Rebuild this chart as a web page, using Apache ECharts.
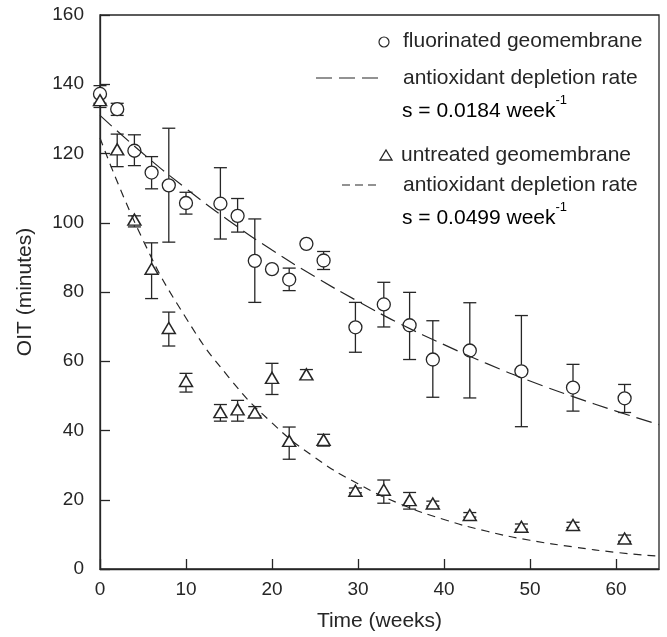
<!DOCTYPE html>
<html><head><meta charset="utf-8">
<script src="https://cdn.jsdelivr.net/npm/echarts@6/dist/echarts.min.js"></script>
<style>html,body{margin:0;padding:0;background:#fff}#c{width:667px;height:637px}</style>
</head><body><div id="c"></div>
<script>
// ---- data ----
const fluorTime = [0, 2, 4, 6, 8, 10, 14, 16, 18, 20, 22, 24, 26, 29.7, 33, 36, 38.7, 43, 49, 55, 61];
const fluorOIT  = [137.2, 132.8, 120.8, 114.5, 110.8, 105.7, 105.5, 102.0, 89.0, 86.6, 83.6, 93.9, 89.1, 69.8, 76.4, 70.4, 60.5, 63.1, 57.1, 52.4, 49.3];
const fluorLow  = [134.5, 131.0, 116.5, 109.8, 94.4, 102.5, 95.3, 97.3, 77.0, null, 80.4, null, 86.5, 62.6, 69.9, 60.5, 49.6, 49.4, 41.1, 45.6, 45.2];
const fluorHigh = [139.6, 134.5, 125.4, 119.1, 127.3, 108.8, 115.9, 107.0, 101.1, null, 86.9, null, 91.7, 77.0, 82.8, 79.9, 71.7, 76.9, 73.2, 59.1, 53.3];

const untrTime = [0, 2, 4, 6, 8, 10, 14, 16, 18, 20, 22, 24, 26, 29.7, 33, 36, 38.7, 43, 49, 55, 61];
const untrOIT  = [135.4, 121.2, 100.9, 86.7, 69.6, 54.3, 45.3, 46.1, 45.2, 55.2, 37.0, 56.2, 37.3, 22.6, 22.9, 19.9, 18.9, 15.6, 12.2, 12.7, 8.8];
const untrLow  = [133.3, 116.2, 98.8, 78.1, 64.4, 51.1, 42.7, 42.7, 44.2, 50.4, 31.7, 54.8, 35.5, 22.0, 19.0, 17.3, 18.2, 15.0, 11.5, 12.0, 8.0];
const untrHigh = [137.0, 125.6, 102.0, 94.2, 74.2, 56.5, 47.5, 48.7, 46.9, 59.4, 41.0, 57.6, 38.9, 23.4, 25.7, 22.1, 19.6, 16.3, 13.0, 13.5, 9.8];

// depletion-rate curves
const fitTime  = [0, 5, 10, 15, 20, 25, 30, 35, 40, 45, 50, 55, 60, 65];
const fluorFit = [131.0, 120.0, 109.9, 100.6, 92.1, 84.4, 77.3, 70.7, 64.8, 59.3, 54.3, 49.8, 45.6, 41.7];
const untrFit  = [124.5, 95.0, 72.5, 55.3, 42.2, 32.2, 24.6, 18.7, 14.3, 10.9, 8.3, 6.4, 4.8, 3.7];

const xTicks = [0, 10, 20, 30, 40, 50, 60];
const yTicks = [0, 20, 40, 60, 80, 100, 120, 140, 160];

const legendTexts = {
  f1: 'fluorinated geomembrane',
  f2: 'antioxidant depletion rate',
  f3: 's = 0.0184 week',
  u1: 'untreated geomembrane',
  u2: 'antioxidant depletion rate',
  u3: 's = 0.0499 week',
  sup: '-1'
};

// ---- chart ----
const INK = '#262626';
const FONT = '"Liberation Sans", Arial, Helvetica, sans-serif';
const LFS = 21;

function pairs(xs, ys) { return xs.map((x, i) => [x, ys[i]]); }
function errData(xs, lo, hi) {
  const out = [];
  xs.forEach((x, i) => { if (lo[i] != null && hi[i] != null) out.push([x, lo[i], hi[i]]); });
  return out;
}
function errRender(params, api) {
  const x = api.value(0), lo = api.value(1), hi = api.value(2);
  const a = api.coord([x, lo]), b = api.coord([x, hi]);
  const hw = 6.5;
  const st = { stroke: INK, lineWidth: 1.3, fill: null };
  return {
    type: 'group',
    children: [
      { type: 'line', shape: { x1: a[0], y1: a[1], x2: b[0], y2: b[1] }, style: st },
      { type: 'line', shape: { x1: a[0] - hw, y1: a[1], x2: a[0] + hw, y2: a[1] }, style: st },
      { type: 'line', shape: { x1: b[0] - hw, y1: b[1], x2: b[0] + hw, y2: b[1] }, style: st }
    ]
  };
}

const chart = echarts.init(document.getElementById('c'), null, { renderer: 'canvas' });

const axisCommon = {
  type: 'value',
  axisLine: { show: true, lineStyle: { color: INK, width: 1.3 } },
  axisTick: { show: true, inside: true, length: 10, lineStyle: { color: INK, width: 1.3 } },
  splitLine: { show: false },
  nameLocation: 'middle',
  nameTextStyle: { color: INK, fontSize: 21, fontFamily: FONT }
};

const rich = {
  m: { fontSize: LFS, fontFamily: FONT, color: INK, lineHeight: 28, verticalAlign: 'bottom' },
  s: { fontSize: 13, fontFamily: FONT, color: INK, lineHeight: 14, verticalAlign: 'top' }
};

function txt(x, y, t) {
  return { type: 'text', x: x, y: y, style: { text: t, fill: INK, fontSize: LFS, fontFamily: FONT, verticalAlign: 'middle' } };
}

chart.setOption({
  animation: false,
  backgroundColor: '#fff',
  grid: { left: 100, right: 8, top: 15, bottom: 67, show: true, borderColor: INK, borderWidth: 1.3, backgroundColor: 'transparent' },
  xAxis: Object.assign({}, axisCommon, {
    min: 0, max: 65, interval: 10,
    name: 'Time (weeks)', nameGap: 42,
    axisLabel: { color: INK, fontSize: 19, fontFamily: FONT, margin: 11, showMaxLabel: false,
      formatter: v => (xTicks.indexOf(v) >= 0 ? String(v) : '') }
  }),
  yAxis: Object.assign({}, axisCommon, {
    min: 0, max: 160, interval: 20,
    name: 'OIT (minutes)', nameGap: 64,
    axisLabel: { color: INK, fontSize: 19, fontFamily: FONT, margin: 16,
      formatter: v => (yTicks.indexOf(v) >= 0 ? String(v) : '') }
  }),
  series: [
    { type: 'custom', name: 'fluorErr', renderItem: errRender, data: errData(fluorTime, fluorLow, fluorHigh), silent: true, z: 2 },
    { type: 'custom', name: 'untrErr', renderItem: errRender, data: errData(untrTime, untrLow, untrHigh), silent: true, z: 2 },
    { type: 'scatter', name: 'fluorinated geomembrane', data: pairs(fluorTime, fluorOIT), symbol: 'circle', symbolSize: 13,
      itemStyle: { color: '#fff', borderColor: INK, borderWidth: 1.3, opacity: 1 }, silent: true, z: 3 },
    { type: 'scatter', name: 'untreated geomembrane', data: pairs(untrTime, untrOIT), symbol: 'triangle', symbolSize: [13, 11],
      itemStyle: { color: '#fff', borderColor: INK, borderWidth: 1.5, opacity: 1 }, silent: true, z: 3 },
    { type: 'line', name: 'fluorFit', data: pairs(fitTime, fluorFit), smooth: true, showSymbol: false, symbol: 'none',
      lineStyle: { color: INK, width: 1.2, type: [16, 7] }, silent: true, z: 4 },
    { type: 'line', name: 'untrFit', data: pairs(fitTime, untrFit), smooth: true, showSymbol: false, symbol: 'none',
      lineStyle: { color: INK, width: 1.2, type: [8, 6] }, silent: true, z: 4 }
  ],
  graphic: [
    { type: 'circle', shape: { cx: 384, cy: 42, r: 5 }, style: { fill: '#fff', stroke: INK, lineWidth: 1.2 } },
    txt(403, 41, legendTexts.f1),
    { type: 'line', shape: { x1: 316, y1: 78, x2: 378, y2: 78 }, style: { stroke: INK, lineWidth: 1.2, lineDash: [16, 7] } },
    txt(403, 78, legendTexts.f2),
    { type: 'text', x: 402, y: 108, style: { text: '{m|' + legendTexts.f3 + '}{s|' + legendTexts.sup + '}', rich: rich, verticalAlign: 'middle' } },
    { type: 'polygon', shape: { points: [[380, 160], [392, 160], [386, 150]] }, style: { fill: '#fff', stroke: INK, lineWidth: 1.3 } },
    txt(401, 155, legendTexts.u1),
    { type: 'line', shape: { x1: 342, y1: 185, x2: 378, y2: 185 }, style: { stroke: INK, lineWidth: 1.2, lineDash: [8, 5] } },
    txt(403, 185, legendTexts.u2),
    { type: 'text', x: 402, y: 215, style: { text: '{m|' + legendTexts.u3 + '}{s|' + legendTexts.sup + '}', rich: rich, verticalAlign: 'middle' } }
  ]
});
</script>
</body></html>
